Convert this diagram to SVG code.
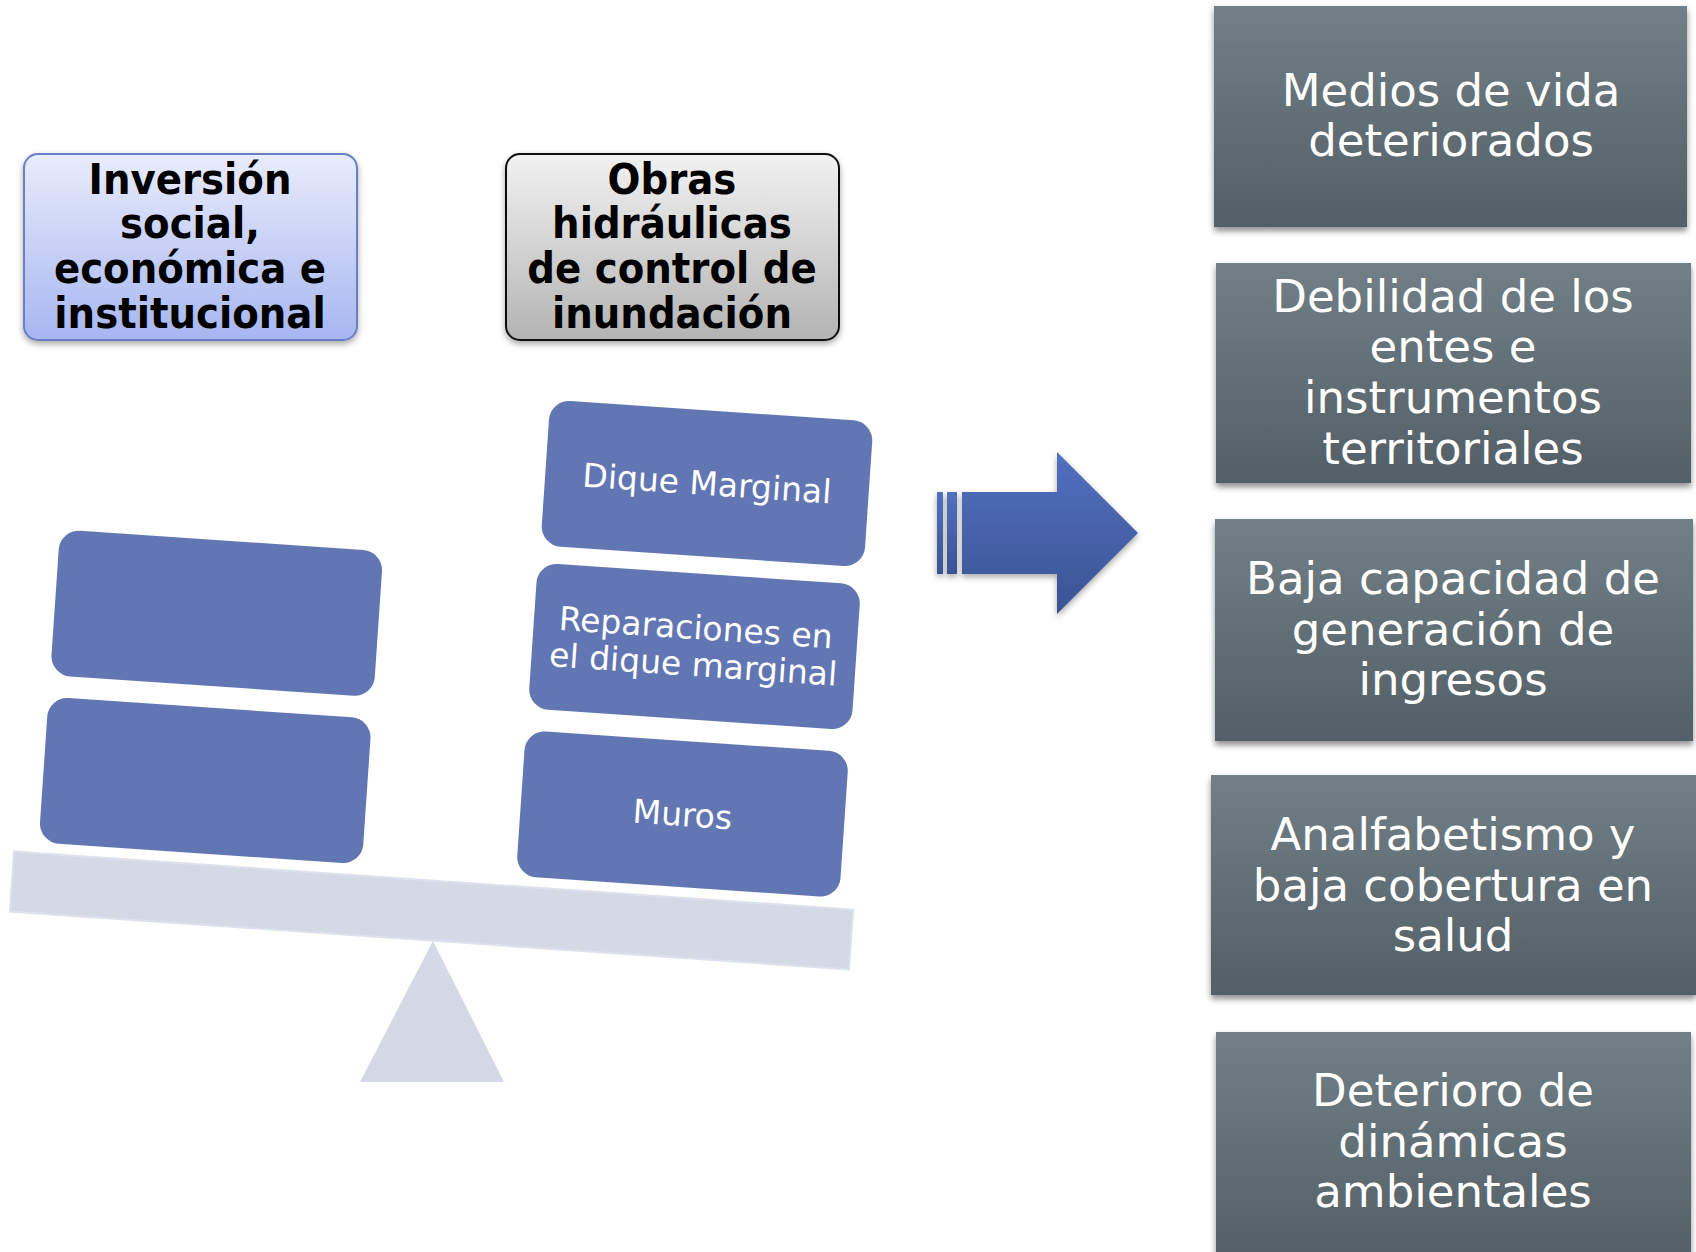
<svg xmlns="http://www.w3.org/2000/svg" width="1696" height="1252" viewBox="0 0 1696 1252">
<defs>
<linearGradient id="gBlue" x1="0" y1="0" x2="0" y2="1"><stop offset="0" stop-color="#e9ecfc"/><stop offset="1" stop-color="#a6b6f0"/></linearGradient>
<linearGradient id="gGray" x1="0" y1="0" x2="0" y2="1"><stop offset="0" stop-color="#f2f2f2"/><stop offset="1" stop-color="#b3b3b3"/></linearGradient>
<linearGradient id="gSlate" x1="0" y1="0" x2="0" y2="1"><stop offset="0" stop-color="#717f86"/><stop offset="1" stop-color="#535f66"/></linearGradient>
<linearGradient id="gArrow" x1="0" y1="0" x2="0" y2="1"><stop offset="0" stop-color="#5270c0"/><stop offset="1" stop-color="#3b5393"/></linearGradient>
<filter id="sh" x="-10%" y="-10%" width="120%" height="130%"><feDropShadow dx="0" dy="4" stdDeviation="3" flood-color="#000" flood-opacity="0.45"/></filter>
<filter id="sh2" x="-10%" y="-10%" width="120%" height="130%"><feDropShadow dx="0" dy="3" stdDeviation="3" flood-color="#000" flood-opacity="0.35"/></filter>
</defs>
<style>
.top{font-family:'DejaVu Sans Condensed','DejaVu Sans',sans-serif;font-stretch:condensed;font-weight:bold;font-size:43px;fill:#000;text-anchor:middle}
.rt{font-family:'DejaVu Sans',sans-serif;font-size:45px;fill:#fff;text-anchor:middle}
.slate{fill:url(#gSlate);filter:url(#sh)}
.blk{fill:#6176b3}
.bt{font-family:'DejaVu Sans',sans-serif;font-size:33px;fill:#fff;text-anchor:middle}
.bal{fill:#d5d9e6}
</style>
<rect width="1696" height="1252" fill="#fff"/>

<g id="balance">
<polygon class="bal" points="433,941 360,1082 504,1082"/>
<rect class="bal" x="11" y="880.5" width="841" height="60" transform="rotate(3.95 431 910.5)" stroke="#dde1ec" stroke-width="2"/>
</g>

<g id="block-left-upper"><rect class="blk" x="54.75" y="540.25" width="324" height="146" rx="20" transform="rotate(3.9 216.75 613.25)"/></g>
<g id="block-left-lower"><rect class="blk" x="43.25" y="707.5" width="324" height="146" rx="20" transform="rotate(3.9 205.25 780.5)"/></g>

<g id="block-dique" transform="rotate(3.9 707 483.5)">
<rect class="blk" x="545" y="410.5" width="324" height="146" rx="20"/>
<text class="bt" x="707" y="495">Dique Marginal</text>
</g>
<g id="block-reparaciones" transform="rotate(3.9 694.5 646.5)">
<rect class="blk" x="532.5" y="573.5" width="324" height="146" rx="20"/>
<text class="bt" x="694.5" y="639">Reparaciones en</text>
<text class="bt" x="694.5" y="676">el dique marginal</text>
</g>
<g id="block-muros" transform="rotate(3.9 682.5 814)">
<rect class="blk" x="520.5" y="741" width="324" height="146" rx="20"/>
<text class="bt" x="682.5" y="826">Muros</text>
</g>

<g id="node-inversion">
<rect x="24" y="154" width="333" height="186" rx="14" fill="url(#gBlue)" stroke="#6b7fc6" stroke-width="2" filter="url(#sh2)"/>
<text class="top" x="190" y="194">Inversión</text>
<text class="top" x="190" y="238">social,</text>
<text class="top" x="190" y="283">económica e</text>
<text class="top" x="190" y="328">institucional</text>
</g>
<g id="node-obras">
<rect x="506" y="154" width="333" height="186" rx="14" fill="url(#gGray)" stroke="#111" stroke-width="2" filter="url(#sh2)"/>
<text class="top" x="672" y="194">Obras</text>
<text class="top" x="672" y="238">hidráulicas</text>
<text class="top" x="672" y="283">de control de</text>
<text class="top" x="672" y="328">inundación</text>
</g>

<g id="connectors">
<g id="arrow" fill="url(#gArrow)" filter="url(#sh2)">
<rect x="937" y="492" width="6" height="82"/>
<rect x="947" y="492" width="10" height="82"/>
<polygon points="962,492 1057,492 1057,452 1138,533 1057,614 1057,574 962,574"/>
</g>
</g>

<g id="node-medios">
<rect class="slate" x="1214" y="6" width="473" height="221"/>
<text class="rt" x="1451" y="106">Medios de vida</text>
<text class="rt" x="1451" y="156">deteriorados</text>
</g>
<g id="node-debilidad">
<rect class="slate" x="1216" y="263" width="475" height="220"/>
<text class="rt" x="1453" y="312">Debilidad de los</text>
<text class="rt" x="1453" y="362">entes e</text>
<text class="rt" x="1453" y="413">instrumentos</text>
<text class="rt" x="1453" y="464">territoriales</text>
</g>
<g id="node-baja">
<rect class="slate" x="1215" y="519" width="478" height="222"/>
<text class="rt" x="1453" y="594">Baja capacidad de</text>
<text class="rt" x="1453" y="645">generación de</text>
<text class="rt" x="1453" y="695">ingresos</text>
</g>
<g id="node-analfabetismo">
<rect class="slate" x="1211" y="775" width="485" height="220"/>
<text class="rt" x="1453" y="850">Analfabetismo y</text>
<text class="rt" x="1453" y="901">baja cobertura en</text>
<text class="rt" x="1453" y="951">salud</text>
</g>
<g id="node-deterioro">
<rect class="slate" x="1216" y="1032" width="475" height="230"/>
<text class="rt" x="1453" y="1106">Deterioro de</text>
<text class="rt" x="1453" y="1157">dinámicas</text>
<text class="rt" x="1453" y="1207">ambientales</text>
</g>
</svg>
